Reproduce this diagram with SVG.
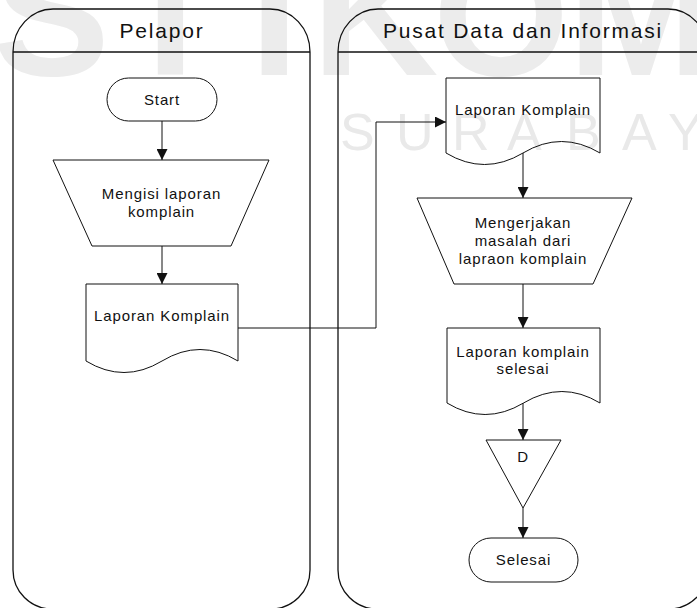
<svg xmlns="http://www.w3.org/2000/svg" width="697" height="608" viewBox="0 0 697 608">
<style>
.wm{font-family:"Liberation Sans",Arial,sans-serif;fill:#ececec}
.wm2{font-family:"Liberation Sans",Arial,sans-serif;fill:#e9e9e9}
.lane{fill:none;stroke:#111;stroke-width:1.3}
.shape{fill:none;stroke:#111;stroke-width:1}
.hdr{font-family:"Liberation Sans",Arial,sans-serif;font-size:21px;letter-spacing:1.8px;fill:#111;text-anchor:middle}
.lbl{font-family:"Liberation Sans",Arial,sans-serif;font-size:15px;letter-spacing:0.9px;fill:#111;text-anchor:middle}
.conn{fill:none;stroke:#111;stroke-width:1}
</style>
<defs>
<marker id="arr" markerUnits="userSpaceOnUse" markerWidth="11" markerHeight="11" refX="10" refY="5" orient="auto" viewBox="0 0 10 10">
<path d="M0,0 L10,5 L0,10 z" fill="#111"/>
</marker>
</defs>
<rect x="0" y="0" width="697" height="608" fill="#fff"/>
<g id="watermark">
<text class="wm" font-weight="bold" font-size="175" x="-7" y="75">S</text>
<text class="wm" font-weight="bold" font-size="175" x="117" y="75">T</text>
<text class="wm" font-weight="bold" font-size="175" x="250" y="75">I</text>
<text class="wm" font-weight="bold" font-size="175" x="312" y="75">K</text>
<text class="wm" font-weight="bold" font-size="175" x="433" y="75">O</text>
<text class="wm" font-weight="bold" font-size="175" x="568" y="75">M</text>
<text class="wm2" font-size="52" x="340" y="150">S</text>
<text class="wm2" font-size="52" x="396" y="150">U</text>
<text class="wm2" font-size="52" x="452" y="150">R</text>
<text class="wm2" font-size="52" x="507" y="150">A</text>
<text class="wm2" font-size="52" x="566" y="150">B</text>
<text class="wm2" font-size="52" x="622" y="150">A</text>
<text class="wm2" font-size="52" x="668" y="150">Y</text>
</g>
<g id="lane-pelapor">
<path class="lane" d="M13,52 A40,43 0 0 1 53,9 L270,9 A40,43 0 0 1 310,52 L310,570 A39,39 0 0 1 271,609 L52,609 A39,39 0 0 1 13,570 Z"/>
<line class="lane" x1="13" y1="52" x2="310" y2="52"/>
<text class="hdr" x="162" y="38">Pelapor</text>
</g>
<g id="lane-pusat">
<path class="lane" d="M338,52 A40,43 0 0 1 378,9 L668,9 A40,43 0 0 1 708,52 L708,570 A39,39 0 0 1 669,609 L377,609 A39,39 0 0 1 338,570 Z"/>
<line class="lane" x1="338" y1="52" x2="708" y2="52"/>
<text class="hdr" x="523" y="38">Pusat Data dan Informasi</text>
</g>
<g id="connectors">
<line class="conn" x1="162" y1="121" x2="162" y2="160" marker-end="url(#arr)"/>
<line class="conn" x1="162" y1="246" x2="162" y2="284" marker-end="url(#arr)"/>
<polyline class="conn" points="238,328 376,328 376,122 446,122" marker-end="url(#arr)"/>
<line class="conn" x1="523" y1="153" x2="523" y2="198" marker-end="url(#arr)"/>
<line class="conn" x1="523" y1="284" x2="523" y2="328" marker-end="url(#arr)"/>
<line class="conn" x1="523" y1="403" x2="523" y2="440" marker-end="url(#arr)"/>
<line class="conn" x1="523" y1="508" x2="523" y2="538" marker-end="url(#arr)"/>
</g>
<g id="start">
<rect class="shape" x="107" y="78" width="110" height="43" rx="21.5" ry="21.5"/>
<text class="lbl" x="162" y="105">Start</text>
</g>
<g id="mengisi">
<polygon class="shape" points="53,160 269,160 231,246 92,246"/>
<text class="lbl" x="161.5" y="198.5">Mengisi laporan</text>
<text class="lbl" x="161.5" y="216.5">komplain</text>
</g>
<g id="laporan1">
<path class="shape" d="M86,361 L86,284 L238,284 L238,361 M86,361 Q124,384 162,361 T238,361"/>
<text class="lbl" x="162" y="321">Laporan Komplain</text>
</g>
<g id="laporan2">
<path class="shape" d="M446,153 L446,78 L600,78 L600,153 M446,153 Q484.5,176 523,153 T600,153"/>
<text class="lbl" x="523" y="115">Laporan Komplain</text>
</g>
<g id="mengerjakan">
<polygon class="shape" points="417,198 632,198 593,284 454,284"/>
<text class="lbl" x="523" y="228.3">Mengerjakan</text>
<text class="lbl" x="523" y="246.3">masalah dari</text>
<text class="lbl" x="523" y="264.3">lapraon komplain</text>
</g>
<g id="laporan3">
<path class="shape" d="M447,403 L447,328 L600,328 L600,403 M447,403 Q485,426 523.5,403 T600,403"/>
<text class="lbl" x="523" y="356.7">Laporan komplain</text>
<text class="lbl" x="523" y="374.3">selesai</text>
</g>
<g id="arsip-d">
<polygon class="shape" points="486,440 561,440 523,508"/>
<text class="lbl" x="523" y="462.3">D</text>
</g>
<g id="selesai">
<rect class="shape" x="469" y="538" width="109" height="44" rx="22" ry="22"/>
<text class="lbl" x="523.5" y="565">Selesai</text>
</g>
</svg>
